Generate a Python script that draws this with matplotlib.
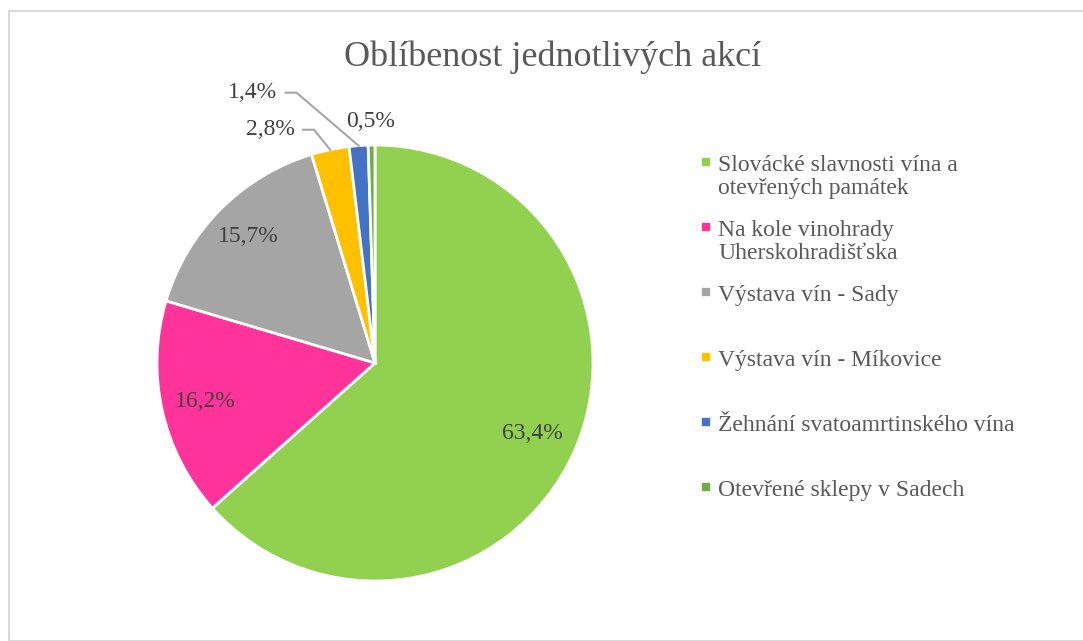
import matplotlib.pyplot as plt
import matplotlib.patches as mpatches
import numpy as np

plt.rcParams['font.family'] = ['Liberation Serif', 'DejaVu Serif']

# data
categories = ['Slovácké slavnosti vína a\notevřených památek',
              'Na kole vinohrady\nUherskohradišťska',
              'Výstava vín - Sady',
              'Výstava vín - Míkovice',
              'Žehnání svatoamrtinského vína',
              'Otevřené sklepy v Sadech']
shares = [63.4, 16.2, 15.7, 2.8, 1.4, 0.5]
colors = ['#92D050', '#FF3399', '#A5A5A5', '#FFC000', '#4472C4', '#70AD47']

W, H = 1083, 641
fig = plt.figure(figsize=(W / 100, H / 100), dpi=100)

# border of the chart area
fig.patches.append(mpatches.Rectangle((9 / W, 0), 1.2, (H - 11) / H, transform=fig.transFigure,
                                      fill=False, edgecolor='#D9D9D9', linewidth=1.5))

fig.text(553 / W, 1 - 57 / H, 'Oblíbenost jednotlivých akcí', ha='center', va='center',
         fontsize=26, color='#595959')

cx, cy, r = 375, 363, 218
ax = fig.add_axes([(cx - r) / W, (H - cy - r) / H, 2 * r / W, 2 * r / H])
wedges, _ = ax.pie(shares, colors=colors, startangle=90, counterclock=False,
                   wedgeprops=dict(edgecolor='white', linewidth=2))
ax.set_xlim(-1, 1)
ax.set_ylim(-1, 1)
ax.axis('off')

# data labels
inside_r = [0.79, 0.8, 0.82]
outside_pos = {3: (-0.48, 1.07), 4: (-0.56, 1.24), 5: (-0.02, 1.11)}
for i, (w, v) in enumerate(zip(wedges, shares)):
    ang = np.deg2rad((w.theta1 + w.theta2) / 2)
    txt = f'{v:.1f}%'.replace('.', ',')
    if i < 3:
        ax.text(inside_r[i] * np.cos(ang), inside_r[i] * np.sin(ang), txt,
                ha='center', va='center', fontsize=17, color='#404040')
    else:
        lx, ly = outside_pos[i]
        ax.text(lx, ly, txt, ha='center', va='center', fontsize=17, color='#404040')
        if i in (3, 4):
            ex, ey = np.cos(ang), np.sin(ang)
            sx = lx + 0.15
            ax.plot([sx, sx + 0.05, ex], [ly, ly, ey], color='#A6A6A6', lw=1.5,
                    clip_on=False)

# legend (drawn by hand: Excel keeps equal slots, marker on the first line)
for i, (lab, c) in enumerate(zip(categories, colors)):
    y = 161 + i * 65
    fig.patches.append(mpatches.Rectangle((702 / W, (H - y - 3.5) / H), 7 / W, 7 / H,
                                          transform=fig.transFigure, color=c))
    for k, line in enumerate(lab.split('\n')):
        fig.text(718 / W, 1 - (y + 10 + k * 23) / H, line, ha='left', va='baseline',
                 fontsize=17, color='#595959')

fig.savefig('out.png', dpi=100)
